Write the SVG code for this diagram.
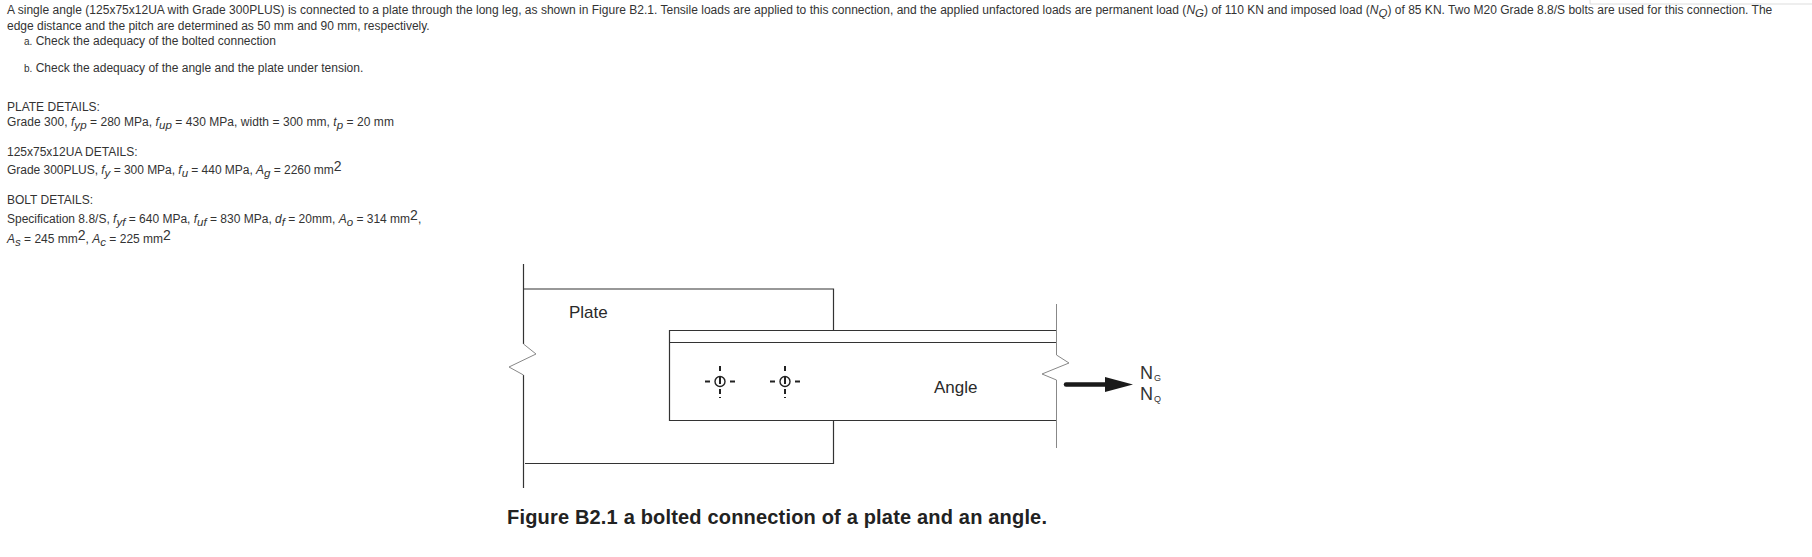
<svg xmlns="http://www.w3.org/2000/svg" width="1812" height="557" viewBox="0 0 1812 557">
<style>
text{font-family:"Liberation Sans",Arial,sans-serif;fill:#333;font-size:12px}
.i{font-style:italic}
.s{font-size:11.5px}
.sup{font-size:14px}
.l{fill:#2a2a2a;font-size:17px}
.k{fill:none;stroke:#333;stroke-width:1.2}
.g{fill:none;stroke:#888;stroke-width:1}
.d{stroke:#222;stroke-width:2;fill:none}
</style>
<rect width="1812" height="557" fill="#fff"/>
<path d="M1590 0V4H1812" fill="none" stroke="#ddd"/>
<g id="problem-text">
<text x="7" y="14" letter-spacing="0.016">A single angle (125x75x12UA with Grade 300PLUS) is connected to a plate through the long leg, as shown in Figure B2.1. Tensile loads are applied to this connection, and the applied unfactored loads are permanent load (<tspan class="i">N</tspan><tspan class="i s" dy="3">G</tspan><tspan dy="-3">) of 110 KN and imposed load (</tspan><tspan class="i">N</tspan><tspan class="i s" dy="3">Q</tspan><tspan dy="-3">) of 85 KN. Two M20 Grade 8.8/S bolts are used for this connection. The</tspan></text>
<text x="7" y="30">edge distance and the pitch are determined as 50 mm and 90 mm, respectively.</text>
<text x="24" y="45"><tspan font-size="10">a.</tspan> Check the adequacy of the bolted connection</text>
<text x="24" y="72"><tspan font-size="10">b.</tspan> Check the adequacy of the angle and the plate under tension.</text>
<text x="7" y="111">PLATE DETAILS:</text>
<text x="7" y="126" letter-spacing="0.05">Grade 300, <tspan class="i">f</tspan><tspan class="i s" dy="3">yp</tspan><tspan dy="-3"> = 280 MPa, </tspan><tspan class="i">f</tspan><tspan class="i s" dy="3">up</tspan><tspan dy="-3"> = 430 MPa, width = 300 mm, </tspan><tspan class="i">t</tspan><tspan class="i s" dy="3">p</tspan><tspan dy="-3"> = 20 mm</tspan></text>
<text x="7" y="156">125x75x12UA DETAILS:</text>
<text x="7" y="174" letter-spacing="-0.03">Grade 300PLUS, <tspan class="i">f</tspan><tspan class="i s" dy="3">y</tspan><tspan dy="-3"> = 300 MPa, </tspan><tspan class="i">f</tspan><tspan class="i s" dy="3">u</tspan><tspan dy="-3"> = 440 MPa, </tspan><tspan class="i">A</tspan><tspan class="i s" dy="3">g</tspan><tspan dy="-3"> = 2260 mm</tspan><tspan class="sup" dy="-3">2</tspan></text>
<text x="7" y="204">BOLT DETAILS:</text>
<text x="7" y="223">Specification 8.8/S, <tspan class="i">f</tspan><tspan class="i s" dy="3">yf</tspan><tspan dy="-3"> = 640 MPa, </tspan><tspan class="i">f</tspan><tspan class="i s" dy="3">uf</tspan><tspan dy="-3"> = 830 MPa, </tspan><tspan class="i">d</tspan><tspan class="i s" dy="3">f</tspan><tspan dy="-3"> = 20mm, </tspan><tspan class="i">A</tspan><tspan class="i s" dy="3">o</tspan><tspan dy="-3"> = 314 mm</tspan><tspan class="sup" dy="-3">2</tspan><tspan dy="3">,</tspan></text>
<text x="7" y="243"><tspan class="i">A</tspan><tspan class="i s" dy="3">s</tspan><tspan dy="-3"> = 245 mm</tspan><tspan class="sup" dy="-3">2</tspan><tspan dy="3">, </tspan><tspan class="i">A</tspan><tspan class="i s" dy="3">c</tspan><tspan dy="-3"> = 225 mm</tspan><tspan class="sup" dy="-3">2</tspan></text>
</g>
<g id="plate">
<path class="k" d="M523.5 264V344M523.5 375V488M525 463.5H833.5V420.5M523.5 289H833.5V330"/>
<path class="g" d="M523.5 344L536 354L509 367L523.5 375"/>
<text class="l" x="569" y="318">Plate</text>
</g>
<g id="angle">
<path class="k" d="M1056 330.5H669.5V420.5H1056M669.5 342.5H1056"/>
<path class="g" d="M1056.5 304V355L1069 363L1042 374L1056.5 380V448"/>
<text class="l" x="934" y="393">Angle</text>
</g>
<g id="bolt-1"><circle class="d" style="stroke-width:1.4" cx="720" cy="381.5" r="5"/><path class="d" d="M720 366V371M720 376V384M720 389V394M720 397V398M705 381.5H710M730 381.5H735"/></g>
<g id="bolt-2"><circle class="d" style="stroke-width:1.4" cx="785" cy="381.5" r="5"/><path class="d" d="M785 366V371M785 376V384M785 389V394M785 397V398M770 381.5H775M795 381.5H800"/></g>
<g id="connectors">
<path d="M1066 384.5H1106" stroke="#1a1a1a" stroke-width="4.5" stroke-linecap="round" fill="none"/>
<path d="M1105 377L1133 384.5L1105 392Z" fill="#1a1a1a"/>
</g>
<g id="load-labels">
<text x="1140" y="379" style="font-size:18px">N<tspan font-size="9" dx="1" dy="2">G</tspan></text>
<text x="1140" y="400" style="font-size:18px">N<tspan font-size="9" dx="1" dy="2">Q</tspan></text>
</g>
<text x="507" y="524" letter-spacing="0.18" style="font-size:20px;font-weight:bold;fill:#222">Figure B2.1 a bolted connection of a plate and an angle.</text>
</svg>
